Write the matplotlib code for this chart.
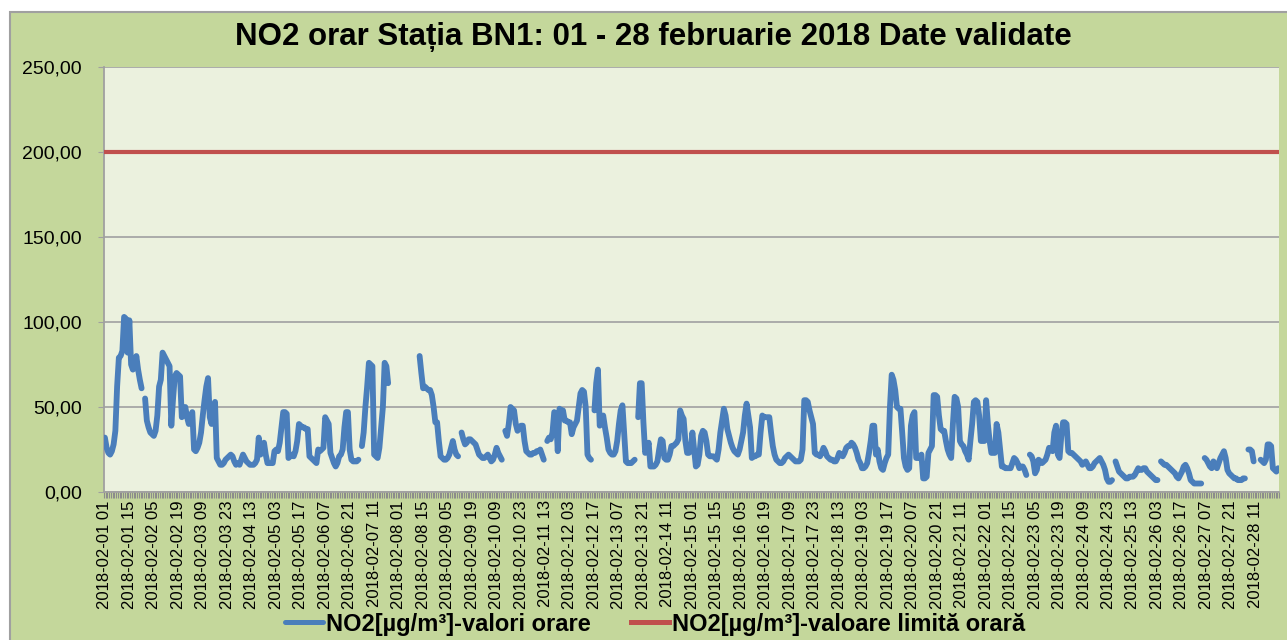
import numpy as np
import pandas as pd
import matplotlib.pyplot as plt
from matplotlib.patches import Rectangle
from matplotlib.ticker import FuncFormatter, MultipleLocator

plt.rcParams['font.family'] = ['Liberation Sans', 'DejaVu Sans']

nan = np.nan

title = "NO2 orar Stația BN1: 01 - 28 februarie 2018 Date validate"
series_label = "NO2[µg/m³]-valori orare"
limit_label = "NO2[µg/m³]-valoare limită orară"
limit_value = 200

# hourly NO2 values, one list per day (nan = no data)
feb01 = [32, 26, 23, 22, 24, 28, 36, 62, 79, 80, 83, 103, 102, 82, 101, 75, 72, 73, 80, 72, 66, 61, nan, 55]
feb02 = [42, 38, 35, 34, 33, 36, 45, 62, 66, 82, 80, 78, 76, 74, 39, 55, 68, 70, 69, 68, 44, 47, 50, 44]
feb03 = [40, 44, 47, 25, 24, 26, 29, 35, 45, 54, 62, 67, 44, 40, 50, 53, 20, 18, 16, 16, 17, 19, 20, 21]
feb04 = [22, 21, 18, 16, 17, 16, 19, 22, 20, 18, 17, 16, 16, 16, 17, 19, 32, 22, 24, 29, 22, 17, 17, 17]
feb05 = [17, 24, 25, 24, 29, 38, 47, 47, 46, 20, 21, 22, 21, 24, 30, 40, 39, 38, 38, 37, 37, 21, 20, 19]
feb06 = [18, 17, 25, 24, 25, 26, 44, 42, 40, 23, 20, 17, 15, 17, 21, 22, 25, 38, 47, 47, 25, 19, 18, 18]
feb07 = [18, 19, nan, 27, 35, 50, 62, 76, 75, 74, 22, 21, 20, 26, 38, 50, 76, 74, 64, nan, nan, nan, nan, nan]
feb08 = [nan, nan, nan, nan, nan, nan, nan, nan, nan, nan, nan, nan, 80, 70, 61, 62, 61, 60, 60, 57, 50, 41, 41, 30]
feb09 = [21, 20, 19, 19, 20, 22, 26, 30, 25, 22, 21, nan, 35, 31, 28, 29, 31, 31, 30, 29, 28, 25, 22, 21]
feb10 = [20, 20, 21, 22, 20, 18, 19, 22, 26, 23, 21, 19, nan, 36, 33, 40, 50, 49, 48, 40, 36, 38, 39, 39]
feb11 = [30, 24, 23, 22, 22, 23, 23, 24, 24, 25, 22, 19, nan, 30, 32, 31, 35, 47, 46, 24, 49, 48, 48, 42]
feb12 = [42, 41, 41, 34, 38, 40, 42, 50, 58, 60, 59, 50, 22, 20, 19, nan, 48, 64, 72, 39, 42, 45, 38, 32]
feb13 = [25, 23, 22, 22, 24, 30, 40, 48, 51, 35, 18, 17, 17, 17, 18, 19, nan, 44, 64, 64, 41, 23, 25, 29]
feb14 = [15, 15, 15, 16, 18, 25, 31, 30, 20, 19, 19, 22, 27, 27, 28, 29, 31, 48, 45, 43, 30, 23, 23, 24]
feb15 = [35, 25, 15, 16, 22, 33, 36, 35, 30, 22, 21, 21, 21, 20, 19, 25, 35, 42, 49, 45, 37, 33, 29, 26]
feb16 = [24, 23, 22, 25, 30, 35, 45, 52, 45, 38, 20, 21, 21, 22, 22, 35, 45, 44, 44, 44, 44, 35, 27, 22]
feb17 = [19, 18, 17, 17, 18, 20, 21, 22, 21, 20, 19, 18, 18, 18, 19, 25, 54, 54, 53, 48, 44, 40, 23, 22]
feb18 = [22, 21, 23, 26, 24, 21, 20, 19, 19, 18, 18, 20, 23, 22, 21, 23, 26, 27, 27, 29, 28, 26, 23, 19]
feb19 = [17, 14, 14, 15, 17, 23, 30, 39, 39, 22, 25, 18, 14, 13, 17, 20, 22, 50, 69, 66, 60, 50, 49, 49]
feb20 = [35, 20, 15, 13, 14, 39, 45, 47, 20, 20, 20, 22, 8, 8, 9, 23, 25, 27, 57, 57, 56, 45, 37, 36]
feb21 = [36, 30, 25, 22, 20, 40, 56, 55, 50, 30, 28, 27, 24, 22, 19, 30, 40, 53, 54, 53, 45, 30, 30, 30]
feb22 = [54, 40, 30, 23, 23, 23, 40, 35, 25, 15, 15, 14, 14, 14, 14, 17, 20, 19, 17, 14, 15, 15, 13, 10]
feb23 = [nan, 22, 21, 18, 11, 13, 19, 18, 17, 18, 19, 22, 26, 25, 24, 35, 39, 22, 20, 33, 41, 41, 40, 24]
feb24 = [23, 23, 22, 21, 20, 19, 18, 16, 17, 18, 16, 14, 14, 15, 17, 18, 19, 20, 18, 16, 13, 8, 6, 6]
feb25 = [7, nan, 18, 15, 12, 11, 10, 9, 8, 8, 9, 9, 9, 10, 12, 14, 13, 13, 14, 14, 12, 11, 10, 9]
feb26 = [8, 7, 7, nan, 18, 17, 16, 16, 15, 14, 13, 12, 11, 9, 8, 10, 12, 15, 16, 14, 11, 7, 6, 5]
feb27 = [5, 5, 5, 5, nan, 20, 19, 17, 15, 14, 18, 16, 14, 17, 20, 22, 24, 20, 13, 11, 10, 9, 8, 8]
feb28 = [7, 7, 7, 8, 8, nan, 25, 25, 24, 18, nan, nan, nan, 19, 18, 17, 19, 28, 28, 27, 14, 13, 12, 14]

no2 = np.array(feb01 + feb02 + feb03 + feb04 + feb05 + feb06 + feb07 + feb08 + feb09 + feb10
               + feb11 + feb12 + feb13 + feb14 + feb15 + feb16 + feb17 + feb18 + feb19 + feb20
               + feb21 + feb22 + feb23 + feb24 + feb25 + feb26 + feb27 + feb28, dtype=float)

hours = pd.date_range("2018-02-01 01:00", periods=len(no2), freq="h")
hour_labels = hours.strftime("%Y-%m-%d %H")
x = np.arange(len(no2))

fig = plt.figure(figsize=(12.87, 6.40), dpi=100, facecolor="white")
# green chart area with grey border, slightly inset from top/left
fig.patches.append(Rectangle((10 / 1287, -0.02), 1.0, 1 - 12 / 640 + 0.02,
                             transform=fig.transFigure, facecolor="#C4D79B",
                             edgecolor="#A0A0A0", linewidth=1.5, zorder=-10))

ax = fig.add_axes([104 / 1287, 1 - 492 / 640, (1279 - 104) / 1287, (492 - 67) / 640])
ax.set_facecolor("#EBF1DE")

ax.plot(x, no2, color="#4A7EBB", lw=4.2, solid_joinstyle="round",
        solid_capstyle="round", label=series_label, zorder=3)
ax.plot(x, np.full(len(x), limit_value), color="#C0504D", lw=3.0,
        label=limit_label, zorder=3)

ax.set_xlim(-0.5, len(x) - 0.5)
ax.set_ylim(0, 250)

ax.yaxis.set_major_locator(MultipleLocator(50))
ax.yaxis.set_major_formatter(FuncFormatter(lambda v, p: f"{v:.2f}".replace(".", ",")))
ax.grid(axis="y", color="#A6A6A6", lw=1.3, zorder=1)
ax.set_axisbelow(True)

ax.set_xticks(x[::14])
ax.set_xticklabels(hour_labels[::14], rotation=90, fontsize=12)
ax.set_xticks(np.arange(len(x) + 1) - 0.5, minor=True)
ax.tick_params(axis="x", which="major", length=0, pad=6)
ax.tick_params(axis="x", which="minor", length=4, width=0.8, color="#8C8C8C", direction="out")
ax.tick_params(axis="y", length=4, color="#A0A0A0", labelsize=14, pad=12)

ax.spines[["top", "right"]].set_visible(False)
ax.spines[["left", "bottom"]].set_color("#A0A0A0")
ax.spines[["left", "bottom"]].set_linewidth(1.3)

fig.text(0.508, 0.942, title, ha="center", va="center", fontsize=22.5, fontweight="bold")

# legend kept just inside the bottom edge
leg = fig.legend(loc="center", bbox_to_anchor=(0.509, 0.025), ncol=2, frameon=False,
                 prop={"weight": "bold", "size": 17}, handlelength=1.6,
                 handletextpad=0.15, columnspacing=1.7, borderpad=0.1)
for line in leg.get_lines():
    line.set_linewidth(3.6)

plt.savefig("out.png", dpi=100)
